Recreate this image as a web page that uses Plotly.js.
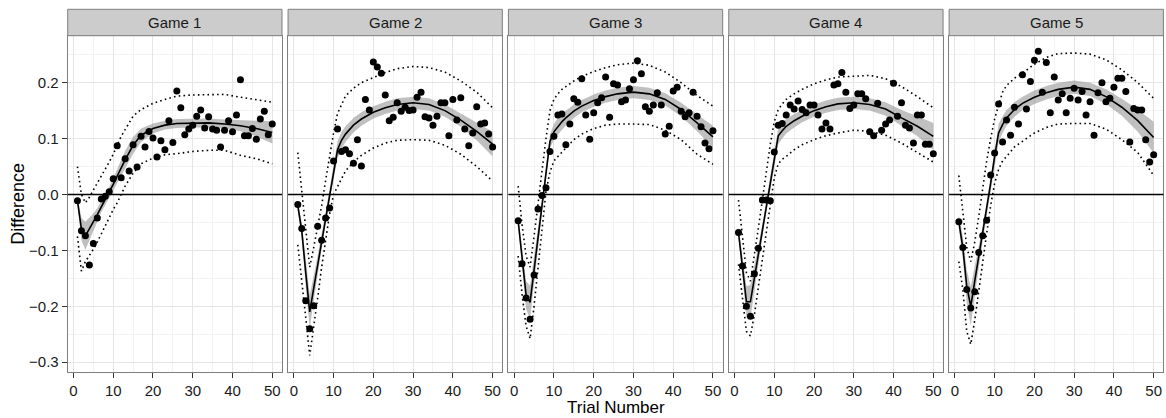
<!DOCTYPE html>
<html>
<head>
<meta charset="utf-8">
<script src="https://cdn.plot.ly/plotly-3.0.1.min.js"></script>
<style>html,body{margin:0;padding:0;background:#fff;}#chart{width:1166px;height:418px;}</style>
</head>
<body>
<div id="chart"></div>
<script>
// ---------------- data ----------------
const games = ["Game 1", "Game 2", "Game 3", "Game 4", "Game 5"];
const trials = [1,2,3,4,5,6,7,8,9,10,11,12,13,14,15,16,17,18,19,20,21,22,23,24,25,26,27,28,29,30,31,32,33,34,35,36,37,38,39,40,41,42,43,44,45,46,47,48,49,50];

const pts1 = [-0.011,-0.065,-0.074,-0.126,-0.0875,-0.042,-0.008,-0.003,0.005,0.028,0.087,0.030,0.064,0.042,0.089,0.049,0.104,0.085,0.1125,0.101,0.067,0.096,0.080,0.132,0.093,0.185,0.155,0.107,0.117,0.124,0.140,0.151,0.119,0.139,0.117,0.115,0.085,0.115,0.132,0.112,0.142,0.205,0.105,0.105,0.118,0.099,0.135,0.149,0.107,0.126];
const pts2 = [-0.018,-0.061,-0.19,-0.24,-0.199,-0.057,-0.082,-0.042,-0.024,0.06,0.117,0.077,0.08,0.073,0.056,0.098,0.051,0.17,0.151,0.237,0.228,0.217,0.178,0.132,0.138,0.164,0.149,0.156,0.15,0.151,0.174,0.183,0.139,0.137,0.124,0.14,0.164,0.164,0.105,0.17,0.133,0.173,0.117,0.087,0.11,0.157,0.126,0.128,0.108,0.085];
const pts3 = [-0.047,-0.124,-0.185,-0.223,-0.144,-0.026,-0.002,0.012,0.077,0.104,0.142,0.144,0.089,0.126,0.171,0.165,0.207,0.142,0.099,0.146,0.164,0.173,0.21,0.138,0.198,0.196,0.166,0.169,0.189,0.205,0.239,0.216,0.157,0.149,0.16,0.182,0.16,0.108,0.122,0.185,0.192,0.149,0.139,0.146,0.183,0.14,0.121,0.092,0.082,0.114];
const pts4 = [-0.068,-0.128,-0.2,-0.218,-0.142,-0.096,-0.01,-0.01,-0.011,0.076,0.124,0.127,0.142,0.16,0.153,0.167,0.152,0.146,0.16,0.16,0.142,0.117,0.128,0.117,0.196,0.198,0.218,0.183,0.154,0.16,0.18,0.18,0.171,0.112,0.105,0.163,0.115,0.126,0.133,0.199,0.14,0.164,0.124,0.119,0.092,0.142,0.142,0.09,0.09,0.073];
const pts5 = [-0.049,-0.095,-0.17,-0.203,-0.174,-0.104,-0.074,-0.046,0.035,0.074,0.162,0.094,0.133,0.106,0.156,0.126,0.214,0.153,0.202,0.24,0.256,0.183,0.236,0.146,0.21,0.169,0.18,0.146,0.172,0.19,0.169,0.184,0.142,0.166,0.106,0.182,0.2,0.166,0.172,0.192,0.208,0.208,0.184,0.094,0.154,0.151,0.151,0.098,0.058,0.071];

// trials at which the fitted curve, its band and the dotted interval were read
const fitX = [1,2,3,4,5,6,7,8,9,10,11,12,13,15,17,20,23,26,30,34,38,42,46,50];

const fit1 = [-0.011,-0.062,-0.074,-0.062,-0.049,-0.036,-0.022,-0.009,0.004,0.018,0.033,0.048,0.062,0.088,0.106,0.118,0.124,0.127,0.128,0.128,0.126,0.123,0.118,0.111];
const fit2 = [-0.02,-0.065,-0.14,-0.21,-0.168,-0.126,-0.084,-0.042,0.0,0.042,0.08,0.097,0.108,0.124,0.135,0.147,0.155,0.161,0.164,0.161,0.15,0.133,0.113,0.09];
const fit3 = [-0.047,-0.12,-0.18,-0.193,-0.135,-0.077,-0.019,0.04,0.095,0.112,0.122,0.13,0.137,0.149,0.158,0.168,0.175,0.18,0.183,0.18,0.17,0.152,0.128,0.103];
const fit4 = [-0.068,-0.13,-0.192,-0.192,-0.15,-0.107,-0.065,-0.022,0.02,0.063,0.105,0.114,0.122,0.132,0.14,0.15,0.157,0.162,0.164,0.161,0.153,0.137,0.122,0.104];
const fit5 = [-0.049,-0.095,-0.165,-0.2,-0.155,-0.112,-0.07,-0.027,0.02,0.068,0.11,0.125,0.137,0.152,0.163,0.174,0.182,0.188,0.192,0.188,0.175,0.156,0.132,0.102];

// half width of the grey confidence band
const se1 = [0.008,0.02,0.025,0.02,0.015,0.012,0.01,0.01,0.01,0.011,0.013,0.015,0.016,0.015,0.012,0.009,0.008,0.008,0.008,0.008,0.008,0.01,0.014,0.02];
const se2 = [0.008,0.015,0.025,0.03,0.022,0.016,0.012,0.01,0.01,0.012,0.015,0.015,0.014,0.013,0.012,0.011,0.011,0.011,0.011,0.011,0.011,0.012,0.016,0.022];
const se3 = [0.01,0.018,0.025,0.03,0.022,0.016,0.012,0.011,0.012,0.014,0.015,0.014,0.013,0.012,0.011,0.011,0.011,0.011,0.011,0.011,0.011,0.012,0.015,0.02];
const se4 = [0.01,0.018,0.028,0.03,0.022,0.016,0.012,0.011,0.012,0.014,0.015,0.014,0.013,0.012,0.011,0.011,0.011,0.011,0.011,0.011,0.012,0.014,0.018,0.024];
const se5 = [0.012,0.02,0.03,0.035,0.026,0.018,0.014,0.012,0.012,0.014,0.016,0.015,0.014,0.013,0.012,0.012,0.012,0.012,0.012,0.012,0.013,0.015,0.02,0.028];

// dotted prediction interval
const up1 = [0.05,0.0,-0.015,-0.005,0.008,0.02,0.033,0.046,0.058,0.072,0.088,0.104,0.116,0.14,0.152,0.163,0.17,0.176,0.178,0.179,0.179,0.174,0.17,0.165];
const lo1 = [-0.075,-0.137,-0.12,-0.11,-0.098,-0.085,-0.07,-0.055,-0.04,-0.027,-0.015,0.0,0.015,0.038,0.055,0.065,0.071,0.073,0.077,0.079,0.079,0.07,0.064,0.055];
const up2 = [0.075,0.01,-0.06,-0.13,-0.095,-0.06,-0.02,0.025,0.07,0.11,0.145,0.162,0.176,0.19,0.2,0.209,0.218,0.225,0.229,0.227,0.219,0.203,0.183,0.155];
const lo2 = [-0.09,-0.15,-0.22,-0.288,-0.24,-0.185,-0.13,-0.08,-0.035,0.0,0.015,0.03,0.042,0.058,0.07,0.083,0.092,0.097,0.098,0.097,0.088,0.072,0.05,0.024];
const up3 = [0.015,-0.055,-0.11,-0.13,-0.075,-0.015,0.045,0.1,0.15,0.17,0.18,0.188,0.193,0.203,0.211,0.22,0.227,0.232,0.235,0.231,0.219,0.2,0.177,0.158];
const lo3 = [-0.11,-0.18,-0.235,-0.258,-0.2,-0.13,-0.06,0.005,0.04,0.06,0.068,0.076,0.084,0.098,0.108,0.118,0.124,0.126,0.126,0.125,0.115,0.098,0.072,0.054];
const up4 = [-0.01,-0.075,-0.14,-0.155,-0.11,-0.06,-0.01,0.04,0.09,0.13,0.152,0.162,0.17,0.18,0.188,0.198,0.205,0.21,0.211,0.213,0.207,0.193,0.175,0.155];
const lo4 = [-0.125,-0.19,-0.245,-0.253,-0.215,-0.165,-0.115,-0.065,-0.015,0.03,0.055,0.063,0.068,0.08,0.089,0.098,0.105,0.11,0.115,0.113,0.106,0.092,0.075,0.058];
const up5 = [0.034,-0.035,-0.095,-0.12,-0.085,-0.04,0.01,0.06,0.1,0.135,0.16,0.183,0.195,0.208,0.217,0.233,0.245,0.252,0.253,0.251,0.241,0.223,0.2,0.172];
const lo5 = [-0.12,-0.17,-0.245,-0.268,-0.225,-0.17,-0.12,-0.07,-0.02,0.02,0.045,0.06,0.068,0.085,0.095,0.11,0.12,0.126,0.127,0.127,0.117,0.098,0.075,0.034];

const xTicks = [0,10,20,30,40,50];
const yTicks = [-0.3,-0.2,-0.1,0.0,0.1,0.2];

// ---------------- build ----------------
const panels = [
  {pts: pts1, fit: fit1, se: se1, up: up1, lo: lo1},
  {pts: pts2, fit: fit2, se: se2, up: up2, lo: lo2},
  {pts: pts3, fit: fit3, se: se3, up: up3, lo: lo3},
  {pts: pts4, fit: fit4, se: se4, up: up4, lo: lo4},
  {pts: pts5, fit: fit5, se: se5, up: up5, lo: lo5}
];

const W = 1166, H = 418;
const FONT = '"Liberation Sans", Arial, Helvetica, sans-serif';
const plotTop = 35.7, plotBottom = 371.7, stripTop = 9.3;
const firstLeft = 67.7, panelW = 214.3, pitch = 220.35;
const yDom = [(H - plotBottom) / H, (H - plotTop) / H];
const stripDom = [(H - plotTop) / H, (H - stripTop) / H];

const data = [];
const layout = {
  width: W, height: H,
  margin: {l: 0, r: 0, t: 0, b: 0},
  paper_bgcolor: '#ffffff', plot_bgcolor: '#ffffff',
  showlegend: false,
  font: {family: FONT, size: 15, color: '#222'},
  shapes: [], annotations: []
};

const dotted = {width: 1.6, color: '#000', dash: '1.6px,3.2px'};

panels.forEach((p, k) => {
  const sfx = k === 0 ? '' : String(k + 1);
  const xa = 'x' + sfx, ya = 'y' + sfx;
  const left = firstLeft + k * pitch;
  layout['xaxis' + sfx] = {
    domain: [left / W, (left + panelW) / W],
    range: [-1.45, 52.45], anchor: ya,
    tickvals: xTicks, ticks: 'outside', ticklen: 5, tickwidth: 1, tickcolor: '#333',
    tickfont: {family: FONT, size: 15, color: '#1a1a1a'},
    showgrid: true, gridcolor: '#e5e5e5', gridwidth: 1,
    minor: {dtick: 5, tick0: 0, showgrid: true, gridcolor: '#f3f3f3', gridwidth: 1, ticks: ''},
    zeroline: false, showline: true, mirror: true, linecolor: '#7f7f7f', linewidth: 1,
    fixedrange: true, automargin: false
  };
  layout['yaxis' + sfx] = {
    domain: yDom, range: [-0.317, 0.284], anchor: xa,
    tickvals: yTicks, tickformat: '.1f',
    ticks: k === 0 ? 'outside' : '', ticklen: 5, tickwidth: 1, tickcolor: '#333',
    showticklabels: k === 0,
    tickfont: {family: FONT, size: 15, color: '#1a1a1a'},
    showgrid: true, gridcolor: '#e5e5e5', gridwidth: 1,
    minor: {dtick: 0.05, tick0: 0, showgrid: true, gridcolor: '#f3f3f3', gridwidth: 1, ticks: ''},
    zeroline: false, showline: true, mirror: true, linecolor: '#7f7f7f', linewidth: 1,
    fixedrange: true, automargin: false
  };

  const bandLo = p.fit.map((v, i) => v - p.se[i]);
  const bandHi = p.fit.map((v, i) => v + p.se[i]);

  data.push({x: fitX, y: bandLo, xaxis: xa, yaxis: ya, type: 'scatter', mode: 'lines',
             line: {width: 0, color: 'rgba(0,0,0,0)'}, hoverinfo: 'skip'});
  data.push({x: fitX, y: bandHi, xaxis: xa, yaxis: ya, type: 'scatter', mode: 'lines',
             line: {width: 0, color: 'rgba(0,0,0,0)'}, fill: 'tonexty',
             fillcolor: 'rgba(140,140,140,0.55)', hoverinfo: 'skip'});
  data.push({x: fitX, y: p.up, xaxis: xa, yaxis: ya, type: 'scatter', mode: 'lines',
             line: dotted, hoverinfo: 'skip'});
  data.push({x: fitX, y: p.lo, xaxis: xa, yaxis: ya, type: 'scatter', mode: 'lines',
             line: dotted, hoverinfo: 'skip'});
  data.push({x: fitX, y: p.fit, xaxis: xa, yaxis: ya, type: 'scatter', mode: 'lines',
             line: {width: 1.6, color: '#000'}, hoverinfo: 'skip'});
  data.push({x: trials, y: p.pts, xaxis: xa, yaxis: ya, type: 'scatter', mode: 'markers',
             marker: {size: 7, color: '#000'}, hoverinfo: 'skip'});

  // horizontal reference line at zero
  layout.shapes.push({type: 'line', xref: xa + ' domain', yref: ya, x0: 0, x1: 1, y0: 0, y1: 0,
                      line: {color: '#000', width: 1.5}, layer: 'above'});
  // facet strip
  layout.shapes.push({type: 'rect', xref: xa + ' domain', yref: 'paper', x0: 0, x1: 1,
                      y0: stripDom[0], y1: stripDom[1], fillcolor: '#cccccc',
                      line: {color: '#7f7f7f', width: 1}, layer: 'above'});
  layout.annotations.push({text: games[k], xref: xa + ' domain', yref: 'paper', x: 0.5,
                           y: (stripDom[0] + stripDom[1]) / 2, xanchor: 'center', yanchor: 'middle',
                           showarrow: false, font: {family: FONT, size: 15, color: '#1a1a1a'}});
});

layout.annotations.push({text: 'Trial Number', xref: 'paper', yref: 'paper',
  x: (firstLeft + 4 * pitch + panelW + firstLeft) / 2 / W, y: 0,
  xanchor: 'center', yanchor: 'bottom', borderpad: 0, showarrow: false,
  font: {family: FONT, size: 17, color: '#000'}});
layout.annotations.push({text: 'Difference', xref: 'paper', yref: 'paper',
  x: 18 / W, y: (H - (plotTop + plotBottom) / 2) / H, textangle: -90,
  xanchor: 'center', yanchor: 'middle', showarrow: false,
  font: {family: FONT, size: 18, color: '#000'}});

Plotly.newPlot('chart', data, layout, {displayModeBar: false, staticPlot: true});
</script>
</body>
</html>
